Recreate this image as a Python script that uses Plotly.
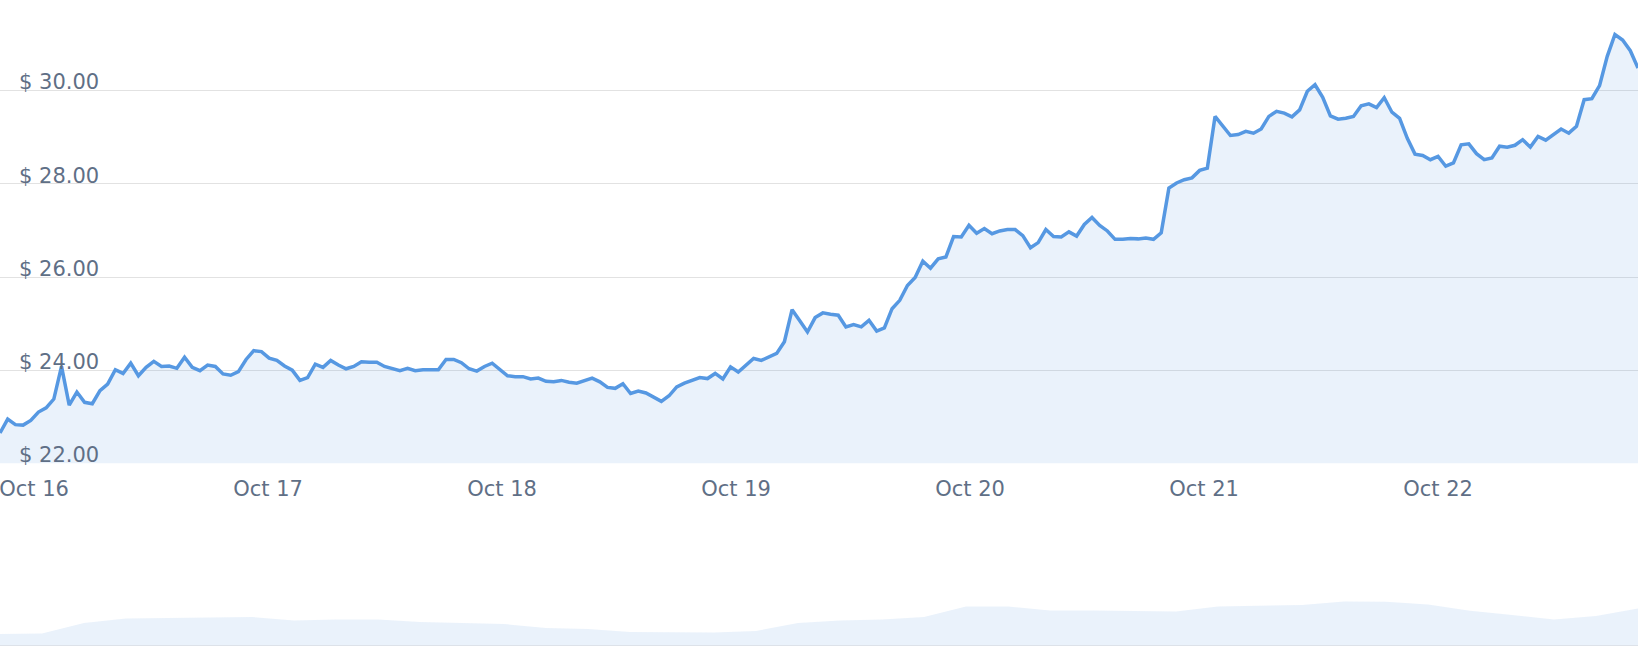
import pandas as pd
import plotly.graph_objects as go

# ---- data ----
start_time = "2023-10-15 20:30"
end_time = "2023-10-22 20:30"

prices = [
    22.65, 22.95, 22.83, 22.82, 22.92, 23.10, 23.19, 23.38, 24.08, 23.25,
    23.53, 23.31, 23.28, 23.56, 23.70, 24.01, 23.93, 24.15, 23.88, 24.06,
    24.19, 24.08, 24.09, 24.04, 24.28, 24.06, 23.99, 24.11, 24.08, 23.92,
    23.89, 23.97, 24.23, 24.42, 24.40, 24.26, 24.21, 24.09, 24.00, 23.78,
    23.84, 24.13, 24.06, 24.21, 24.11, 24.03, 24.08, 24.18, 24.17, 24.17,
    24.08, 24.04, 23.99, 24.04, 23.99, 24.01, 24.01, 24.01, 24.23, 24.23,
    24.16, 24.03, 23.98, 24.08, 24.15, 24.01, 23.88, 23.86, 23.86, 23.81,
    23.83, 23.76, 23.75, 23.78, 23.74, 23.72, 23.78, 23.83, 23.75, 23.63,
    23.61, 23.71, 23.50, 23.55, 23.51, 23.41, 23.33, 23.45, 23.64, 23.72,
    23.79, 23.84, 23.82, 23.93, 23.81, 24.07, 23.96, 24.10, 24.25, 24.21,
    24.29, 24.36, 24.61, 25.30, 25.06, 24.82, 25.13, 25.23, 25.20, 25.18,
    24.93, 24.98, 24.93, 25.07, 24.84, 24.91, 25.32, 25.50, 25.82, 25.99,
    26.34, 26.19, 26.39, 26.43, 26.87, 26.86, 27.11, 26.94, 27.04, 26.93,
    26.99, 27.02, 27.02, 26.89, 26.63, 26.74, 27.02, 26.87, 26.86, 26.97,
    26.88, 27.13, 27.28, 27.11, 26.99, 26.81, 26.81, 26.83, 26.82, 26.84,
    26.81, 26.95, 27.91, 28.02, 28.09, 28.13, 28.29, 28.34, 29.45, 29.25,
    29.04, 29.06, 29.13, 29.09, 29.18, 29.45, 29.56, 29.52, 29.44, 29.59,
    29.99, 30.13, 29.86, 29.46, 29.39, 29.41, 29.45, 29.68, 29.72, 29.64,
    29.85, 29.54, 29.41, 28.98, 28.64, 28.61, 28.52, 28.59, 28.38, 28.45,
    28.84, 28.86, 28.65, 28.52, 28.56, 28.81, 28.79, 28.83, 28.95, 28.79,
    29.02, 28.94, 29.06, 29.18, 29.09, 29.24, 29.81, 29.83, 30.11, 30.74,
    31.21, 31.09, 30.86, 30.49,
]

# overview (brush) series shown in the small chart at the bottom
overview = [
    22.31, 22.41, 24.61, 25.56, 25.66, 25.77, 25.87, 25.14, 25.35, 25.35,
    24.82, 24.61, 24.40, 23.56, 23.35, 22.73, 22.62, 22.62, 22.94, 24.61,
    25.14, 25.35, 25.87, 28.07, 28.07, 27.23, 27.23, 27.13, 27.02, 28.07,
    28.18, 28.39, 29.12, 29.08, 28.49, 27.19, 26.29, 25.35, 26.08, 27.65,
]

x_tick_dates = ["2023-10-16", "2023-10-17", "2023-10-18", "2023-10-19",
                "2023-10-20", "2023-10-21", "2023-10-22"]
x_tick_labels = ["Oct 16", "Oct 17", "Oct 18", "Oct 19",
                 "Oct 20", "Oct 21", "Oct 22"]
y_ticks = [22, 24, 26, 28, 30]
y_tick_labels = ["$ 22.00", "$ 24.00", "$ 26.00", "$ 28.00", "$ 30.00"]

# ---- styling ----
LINE = "#5698e2"
FILL = "rgba(86,152,226,0.12)"
TEXT = "#5f6f86"
GRID = "#e2e2e2"
FONT = "DejaVu Sans"

times = pd.date_range(start_time, end_time, periods=len(prices))
ov_times = pd.date_range(start_time, end_time, periods=len(overview))

fig = go.Figure()
fig.add_trace(go.Scatter(
    x=times, y=prices, mode="lines",
    line=dict(color=LINE, width=3.5),
    fill="tozeroy", fillcolor=FILL,
    xaxis="x", yaxis="y", hoverinfo="skip",
))
fig.add_trace(go.Scatter(
    x=ov_times, y=overview, mode="lines",
    line=dict(color="rgba(0,0,0,0)", width=0),
    fill="tozeroy", fillcolor=FILL,
    xaxis="x2", yaxis="y2", hoverinfo="skip",
))

H_TOTAL = 645.0
fig.update_layout(
    width=1640, height=646,
    margin=dict(l=0, r=2, t=0, b=1, autoexpand=False),
    paper_bgcolor="white", plot_bgcolor="white",
    showlegend=False,
    font=dict(family=FONT, size=21, color=TEXT),
    xaxis=dict(
        domain=[0, 1], anchor="y", automargin=False,
        range=[times[0], times[-1]],
        tickmode="array", tickvals=x_tick_dates, ticktext=x_tick_labels,
        showgrid=False, zeroline=False, showline=False, ticks="",
        ticklabelstandoff=11, ticklabeloverflow="allow",
        tickfont=dict(family=FONT, size=21, color=TEXT),
    ),
    yaxis=dict(
        domain=[(H_TOTAL - 463.3) / H_TOTAL, 1], anchor="x", automargin=False,
        range=[22, 31.95],
        tickvals=y_ticks, ticktext=y_tick_labels,
        ticklabelposition="inside top", ticklabeloverflow="allow",
        ticklabelstandoff=16, ticklabelshift=6,
        showgrid=True, gridcolor=GRID, gridwidth=1,
        zeroline=False, showline=False, ticks="",
        tickfont=dict(family=FONT, size=21, color=TEXT),
    ),
    xaxis2=dict(
        domain=[0, 1], anchor="y2", automargin=False,
        range=[ov_times[0], ov_times[-1]],
        showticklabels=False, showgrid=False, zeroline=False,
        showline=True, linecolor="#dde2e9", linewidth=1, ticks="",
    ),
    yaxis2=dict(
        domain=[0, 105 / H_TOTAL], anchor="x2", automargin=False,
        range=[20, 42], visible=False,
    ),
)

fig.write_html(
    "out.html",
    config={"displayModeBar": False, "staticPlot": True},
    post_script="document.body.style.margin='0';document.body.style.overflow='hidden';",
)
